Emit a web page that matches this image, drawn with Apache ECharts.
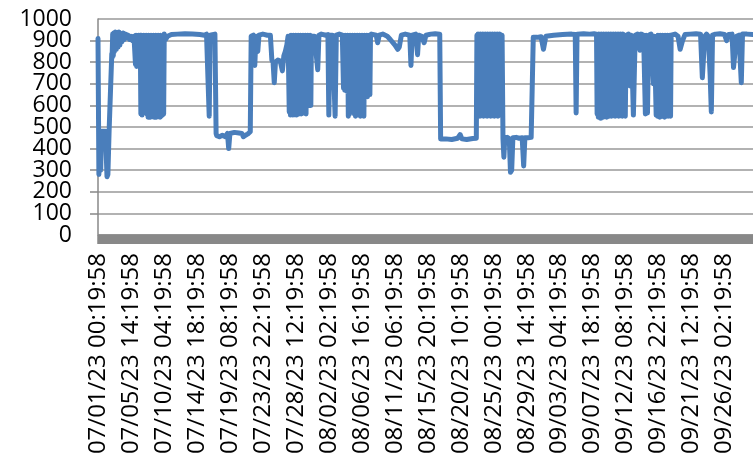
<!DOCTYPE html>
<html>
<head>
<meta charset="utf-8">
<script src="https://cdn.jsdelivr.net/npm/echarts@6/dist/echarts.min.js"></script>
<style>
html,body{margin:0;padding:0;background:#fff;}
#chart{width:753px;height:458px;}
</style>
</head>
<body>
<div id="chart"></div>
<script>
// Tick labels on the x axis (one every 110 hours)
var tickLabels = [
  '07/01/23 00:19:58','07/05/23 14:19:58','07/10/23 04:19:58','07/14/23 18:19:58',
  '07/19/23 08:19:58','07/23/23 22:19:58','07/28/23 12:19:58','08/02/23 02:19:58',
  '08/06/23 16:19:58','08/11/23 06:19:58','08/15/23 20:19:58','08/20/23 10:19:58',
  '08/25/23 00:19:58','08/29/23 14:19:58','09/03/23 04:19:58','09/07/23 18:19:58',
  '09/12/23 08:19:58','09/16/23 22:19:58','09/21/23 12:19:58','09/26/23 02:19:58'
];
var yTicks = [0,100,200,300,400,500,600,700,800,900,1000];

// Series: [hours since 07/01/23 00:19:58, value]
var segStart = [[0,910],[3,280],[5,480],[9,300],[12,480],[25,480],[30,270],[33,280],[37,480],[43,485],[46,840]];
var segRamp = [[47,820],[49,930],[51,830],[53,935],[55,850],[58,940],[61,860],[64,935],[67,870],[70,940],[73,880],[76,930],[80,895],[84,935],[88,905],[92,930],[96,915],[100,925],[105,905],[110,920],[115,900],[120,920]];
var segBlock1 = [[123,925],[125,790],[127,925],[129,780],[131,920],[133,790],[135,925],[138,900],
  [141,925],[143,560],[145,925],[147,555],[149,920],[151,615],[153,925],[155,600],[157,920],[159,620],[161,925],[163,560],
  [165,920],[167,545],[169,925],[171,550],[173,920],[175,545],[177,925],[179,560],[181,920],[183,550],[185,925],[187,545],
  [189,920],[191,555],[193,925],[195,545],[197,920],[199,550],[201,925],[203,560],[205,920],[207,545],[209,925],[211,550],
  [213,920],[215,555],[217,925],[219,560],[221,930]];
var segFlat1 = [[225,905],[232,920],[245,928],[265,930],[290,932],[315,930],[340,928],[355,925],[362,930],[368,925],[371,550],[374,925],[390,930]];
var segLow1 = [[394,470],[396,460],[405,455],[415,462],[425,455],[432,470],[436,400],[440,470],[455,475],[470,472],[480,470],[485,455],[492,462],[500,468],[505,472],[508,478]];
var segMid1 = [[511,920],[513,915],[518,925],[523,785],[527,920],[533,850],[537,925],[550,930],[565,925],[575,925],[580,810],[584,800],[588,705],[592,800],[600,810],[608,805],[615,760],[620,830],[625,850],[630,880],[634,920]];
var segBlock2 = [[636,925],[638,570],[640,920],[642,555],[644,925],[646,560],[648,920],[650,555],[652,925],[654,600],
  [656,920],[658,560],[660,925],[662,555],[664,920],[666,620],[668,925],[670,560],[672,920],[674,600],[676,925],[678,560],
  [680,920],[682,610],[684,925],[686,565],[688,920],[690,600],[692,925],[694,560],[696,920],[698,620],[700,925],[702,600],
  [704,920],[706,610],[708,925],[710,600],[712,920],[714,925]];
var segBlock3 = [[722,920],[728,925],[733,765],[737,925],[745,930],[760,925],[767,928],[770,555],[774,925],[782,925],[787,920],[791,550],[795,925],[805,930],[815,925],
  [817,925],[819,680],[821,920],[823,670],[825,925],[827,690],[829,920],[831,665],[833,925],[835,550],[837,920],[839,560],
  [841,925],[843,660],[845,920],[847,650],[849,925],[851,640],[853,920],[855,560],[857,925],[859,550],[861,920],[863,650],
  [865,925],[867,640],[869,920],[871,555],[873,925],[875,550],[877,920],[879,640],[881,925],[883,560],[885,920],[887,550],
  [889,925],[891,640],[893,920],[895,650],[897,925],[899,640],[901,920],[903,660],[905,925],[907,650],[909,920],[912,930]];
var segFlat2 = [[918,930],[928,925],[933,890],[938,925],[950,930],[965,920],[975,905],[990,880],[1000,860],[1005,870],[1012,925],[1025,930],[1040,925],[1044,785],[1048,925],[1060,930],[1066,835],[1070,925],[1080,920],[1088,890],[1094,925],[1110,930],[1125,932],[1140,930]];
var segLow2 = [[1143,445],[1160,445],[1180,442],[1200,448],[1208,465],[1214,445],[1230,442],[1250,447],[1262,448]];
var segBlock4 = [[1264,925],[1266,560],[1268,930],[1270,555],[1272,925],[1274,550],[1276,930],[1278,560],[1280,925],[1282,555],
  [1284,930],[1286,550],[1288,925],[1290,560],[1292,930],[1294,555],[1296,925],[1298,550],[1300,930],[1302,560],[1304,925],
  [1306,555],[1308,930],[1310,550],[1312,925],[1314,560],[1316,930],[1318,555],[1320,925],[1322,550],[1324,930],[1326,560],
  [1328,925],[1330,555],[1332,930],[1334,550],[1336,925],[1338,560],[1340,930],[1342,555],[1344,925],[1346,560],[1348,925]];
var segLow3 = [[1351,445],[1354,360],[1357,450],[1365,452],[1372,445],[1376,290],[1380,300],[1384,450],[1395,452],[1405,448],[1415,450],[1420,320],[1424,450],[1435,450],[1445,452]];
var segFlat3 = [[1452,915],[1456,910],[1465,915],[1478,918],[1486,860],[1494,920],[1520,925],[1550,928],[1580,930],[1592,928],[1595,565],[1598,930],[1620,932],[1640,930],[1655,932]];
var segBlock5 = [[1663,930],[1665,560],[1667,925],[1669,545],[1671,930],[1673,550],[1675,925],[1677,540],[1679,930],[1681,550],
  [1683,925],[1685,545],[1687,930],[1689,555],[1691,925],[1693,550],[1695,930],[1697,545],[1699,925],[1701,555],[1703,930],
  [1705,550],[1707,925],[1709,560],[1711,930],[1713,550],[1715,925],[1717,555],[1719,930],[1721,560],[1723,925],[1725,550],
  [1727,930],[1729,555],[1731,925],[1733,560],[1735,930],[1737,550],[1739,925],[1741,555],[1743,930],[1745,560],[1747,925],
  [1749,550],[1751,930],[1753,560],[1755,925],[1757,925],[1759,550],[1762,925],[1770,930],[1775,690],[1779,925],
  [1786,555],[1789,560],[1792,925],[1800,930],[1808,855],[1812,930],[1820,925],[1826,560],[1829,925],[1833,565],[1837,925],[1845,930]];
var segBlock6 = [[1850,925],[1853,700],[1856,920],[1860,925],[1862,555],[1864,920],[1866,550],[1868,925],[1870,560],[1872,920],
  [1874,545],[1876,925],[1878,555],[1880,920],[1882,550],[1884,925],[1886,560],[1888,920],[1890,545],[1892,925],[1894,550],
  [1896,920],[1898,555],[1900,925],[1902,550],[1904,920],[1906,560],[1908,925],[1910,550],[1912,925]];
var segEnd = [[1915,928],[1925,930],[1935,920],[1942,860],[1950,900],[1958,928],[1975,930],[1995,932],[2010,930],[2016,728],[2020,730],[2024,920],[2030,930],[2036,920],[2042,740],[2046,570],[2050,925],[2060,930],[2075,932],[2090,928],[2097,900],[2104,928],[2115,930],[2120,775],[2125,780],[2130,920],[2138,925],[2146,705],[2150,930],[2165,930],[2185,928]];

var seriesData = [].concat(segStart, segRamp, segBlock1, segFlat1, segLow1, segMid1,
  segBlock2, segBlock3, segFlat2, segLow2, segBlock4, segLow3, segFlat3, segBlock5, segBlock6, segEnd);

var HOURS_PER_TICK = 110;
var FONT = "'Open Sans', 'Noto Sans', sans-serif";
var Y_MIN = yTicks[0], Y_MAX = yTicks[yTicks.length - 1];

var chart = echarts.init(document.getElementById('chart'), null, {renderer: 'canvas'});
chart.setOption({
  animation: false,
  backgroundColor: '#ffffff',
  grid: {left: 98, right: 0, top: 19, bottom: 223, containLabel: false},
  xAxis: {
    type: 'value',
    min: 0,
    max: 2185,
    interval: HOURS_PER_TICK,
    axisLine: {show: true, lineStyle: {color: '#888888', width: 1.5, cap: 'butt'}},
    axisTick: {show: true, inside: false, length: 9, lineStyle: {color: '#888888', width: 1.5}},
    minorTick: {show: true, splitNumber: 40, length: 9, lineStyle: {color: '#888888', width: 1.5}},
    splitLine: {show: false},
    axisLabel: {
      rotate: 90,
      margin: 18,
      fontSize: 24,
      fontFamily: FONT,
      color: '#000000',
      showMaxLabel: false,
      formatter: function (v) {
        var i = Math.round(v / HOURS_PER_TICK);
        return tickLabels[i] !== undefined ? tickLabels[i] : '';
      }
    }
  },
  yAxis: [{
    // axis with gridlines, ticks and the odd-hundred labels
    type: 'value',
    position: 'left',
    min: Y_MIN,
    max: Y_MAX,
    interval: 100,
    axisLine: {show: true, lineStyle: {color: '#888888', width: 1.5}},
    axisTick: {show: true, inside: false, length: 8, lineStyle: {color: '#888888', width: 1.5}},
    splitLine: {show: true, lineStyle: {color: '#999999', width: 1.5}},
    axisLabel: {
      margin: 26,
      fontSize: 23,
      fontFamily: FONT,
      color: '#000000',
      showMinLabel: false,
      showMaxLabel: false,
      formatter: function (v) { return (v / 100) % 2 === 1 ? String(v) : ''; }
    }
  }, {
    // overlay axis for the even-hundred labels (0, 200, ... 1000)
    type: 'value',
    position: 'left',
    offset: 0,
    min: Y_MIN,
    max: Y_MAX,
    interval: 200,
    axisLine: {show: false},
    axisTick: {show: false},
    splitLine: {show: false},
    axisLabel: {
      margin: 26,
      fontSize: 23,
      fontFamily: FONT,
      color: '#000000',
      showMinLabel: true,
      showMaxLabel: true,
      formatter: function (v) { return String(v); }
    }
  }],
  series: [{
    type: 'line',
    yAxisIndex: 0,
    data: seriesData,
    showSymbol: false,
    symbol: 'none',
    sampling: null,
    lineStyle: {color: '#4a7ebb', width: 5, join: 'round', cap: 'round'},
    itemStyle: {color: '#4a7ebb'},
    z: 3
  }]
});
</script>
</body>
</html>
